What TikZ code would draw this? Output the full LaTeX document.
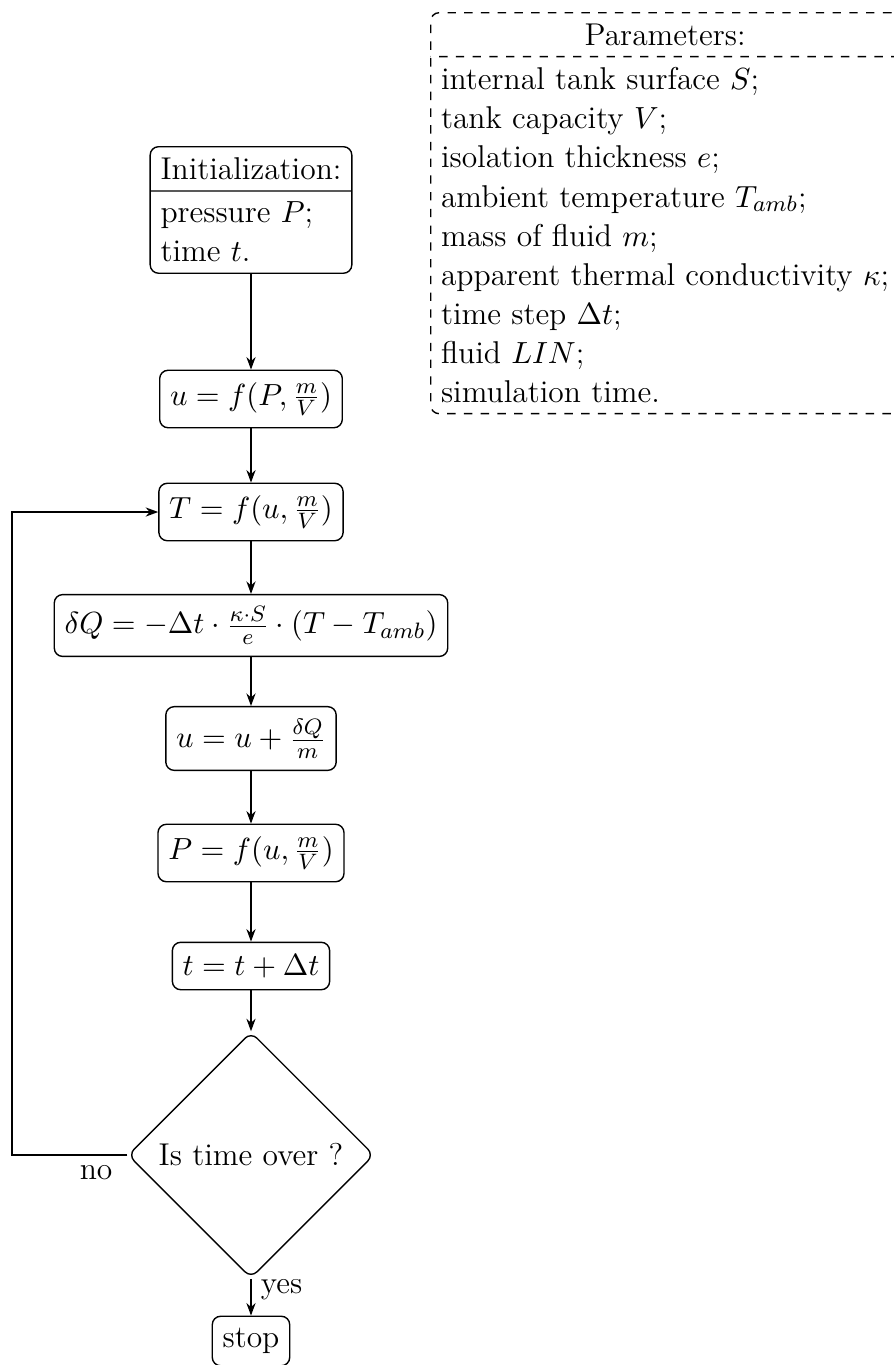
\documentclass[tikz,border=0pt]{standalone}
\usetikzlibrary{shapes.multipart,shapes.geometric,arrows.meta}
\begin{document}
\begin{tikzpicture}[x=0.3584pt,y=-0.3584pt,
  font=\fontsize{11.3}{14.0}\selectfont,
  proc/.style={draw,rounded corners=3pt,inner xsep=3.7pt,inner ysep=4.3pt,line width=0.5pt},
  splitbox/.style={draw,rounded corners=3pt,inner sep=3.7pt,line width=0.5pt,
     rectangle split,rectangle split parts=2,align=left,
     rectangle split part align={center,left}},
  decision/.style={draw,diamond,aspect=1,rounded corners=3pt,inner sep=3.5pt,line width=0.5pt},
  arr/.style={-{Stealth[length=4.5pt,width=3.3pt]},line width=0.5pt},
]
\useasboundingbox (0,0) rectangle (894,1365);
\node[splitbox,dashed,anchor=north west] (par) at (430,12)
  {Parameters:\nodepart{two}internal tank surface $S$;\\
   tank capacity $V$;\\
   isolation thickness $e$;\\
   ambient temperature $T_{amb}$;\\
   mass of fluid $m$;\\
   apparent thermal conductivity $\kappa$;\\
   time step $\Delta t$;\\
   fluid $LIN$;\\
   simulation time.};
\node[splitbox,anchor=north] (init) at (251,146)
  {Initialization:\nodepart{two}pressure $P$;\\time $t$.};
\node[proc] (u1) at (251,399) {$u=f(P,\frac{m}{V})$};
\node[proc] (T) at (251,512) {$T=f(u,\frac{m}{V})$};
\node[proc] (dQ) at (251,625.5) {$\delta Q=-\Delta t\cdot\frac{\kappa\cdot S}{e}\cdot(T-T_{amb})$};
\node[proc] (u2) at (251,738.5) {$u=u+\frac{\delta Q}{m}$};
\node[proc] (P) at (251,853) {$P=f(u,\frac{m}{V})$};
\node[proc] (t) at (251,966) {$t=t+\Delta t$};
\node[decision] (dec) at (251,1155) {Is time over ?};
\node[proc] (stop) at (251,1341) {stop};
\coordinate (loop) at (12,1155);
\draw[arr] (init) -- (u1);
\draw[arr] (u1) -- (T);
\draw[arr] (T) -- (dQ);
\draw[arr] (dQ) -- (u2);
\draw[arr] (u2) -- (P);
\draw[arr] (P) -- (t);
\draw[arr] (t) -- (dec);
\draw[arr] (dec) -- node[right,pos=0.3]{yes} (stop);
\draw[arr] (dec.west) -- node[below,pos=0.27]{no} (loop) |- (T.west);
\end{tikzpicture}
\end{document}
